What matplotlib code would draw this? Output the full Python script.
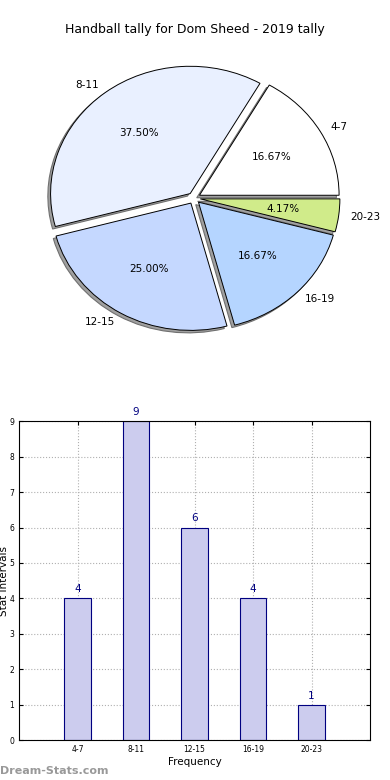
import matplotlib
matplotlib.use('Agg')
import matplotlib.pyplot as plt

intervals = ['4-7', '8-11', '12-15', '16-19', '20-23']
counts = [4, 9, 6, 4, 1]
slice_colors = ['#ffffff', '#e9f0ff', '#c5d8ff', '#b5d5ff', '#d0eb8a']

fig = plt.figure(figsize=(3.9, 7.8), dpi=100)

# pie chart on top
ax1 = fig.add_axes([0.050, 0.542, 0.895, 0.408])
ax1.pie(counts, labels=intervals, colors=slice_colors, autopct='%.2f%%',
        explode=[0.045] * len(counts), startangle=0,
        shadow={'ox': -0.014, 'oy': -0.014, 'facecolor': '#a0a0a0',
                'edgecolor': '#707070', 'alpha': 1, 'linewidth': 0.8},
        wedgeprops={'edgecolor': 'black', 'linewidth': 0.7},
        textprops={'fontsize': 7.5}, labeldistance=1.08)
ax1.set_aspect('auto')
fig.text(0.5, 0.962, 'Handball tally for Dom Sheed - 2019 tally',
         ha='center', va='center', fontsize=9)

# bar chart below
ax2 = fig.add_axes([0.049, 0.051, 0.9, 0.409])
xs = range(len(intervals))
ax2.bar(xs, counts, width=0.45, color='#ccccee', edgecolor='navy', linewidth=0.8,
        zorder=2)
for x, c in zip(xs, counts):
    ax2.text(x, c + 0.12, str(c), ha='center', va='bottom', color='navy',
             fontsize=7.5)
ax2.set_xlim(-1, 5)
ax2.set_ylim(0, 9)
ax2.set_xticks(list(xs))
ax2.set_xticklabels(intervals)
ax2.set_yticks(range(10))
ax2.tick_params(labelsize=5.5, direction='in', top=True, right=True, length=3)
ax2.grid(True, linestyle=':', color='#b0b0b0', linewidth=0.8, zorder=0)
ax2.set_axisbelow(True)
ax2.set_xlabel('Frequency', fontsize=7.5, labelpad=2)
ax2.set_ylabel('Stat Intervals', fontsize=7.5, labelpad=0)

fig.text(0.0, 0.012, 'Dream-Stats.com', color='#999999', fontsize=8,
         fontweight='bold', ha='left', va='center')

fig.savefig('out.png', dpi=100)
